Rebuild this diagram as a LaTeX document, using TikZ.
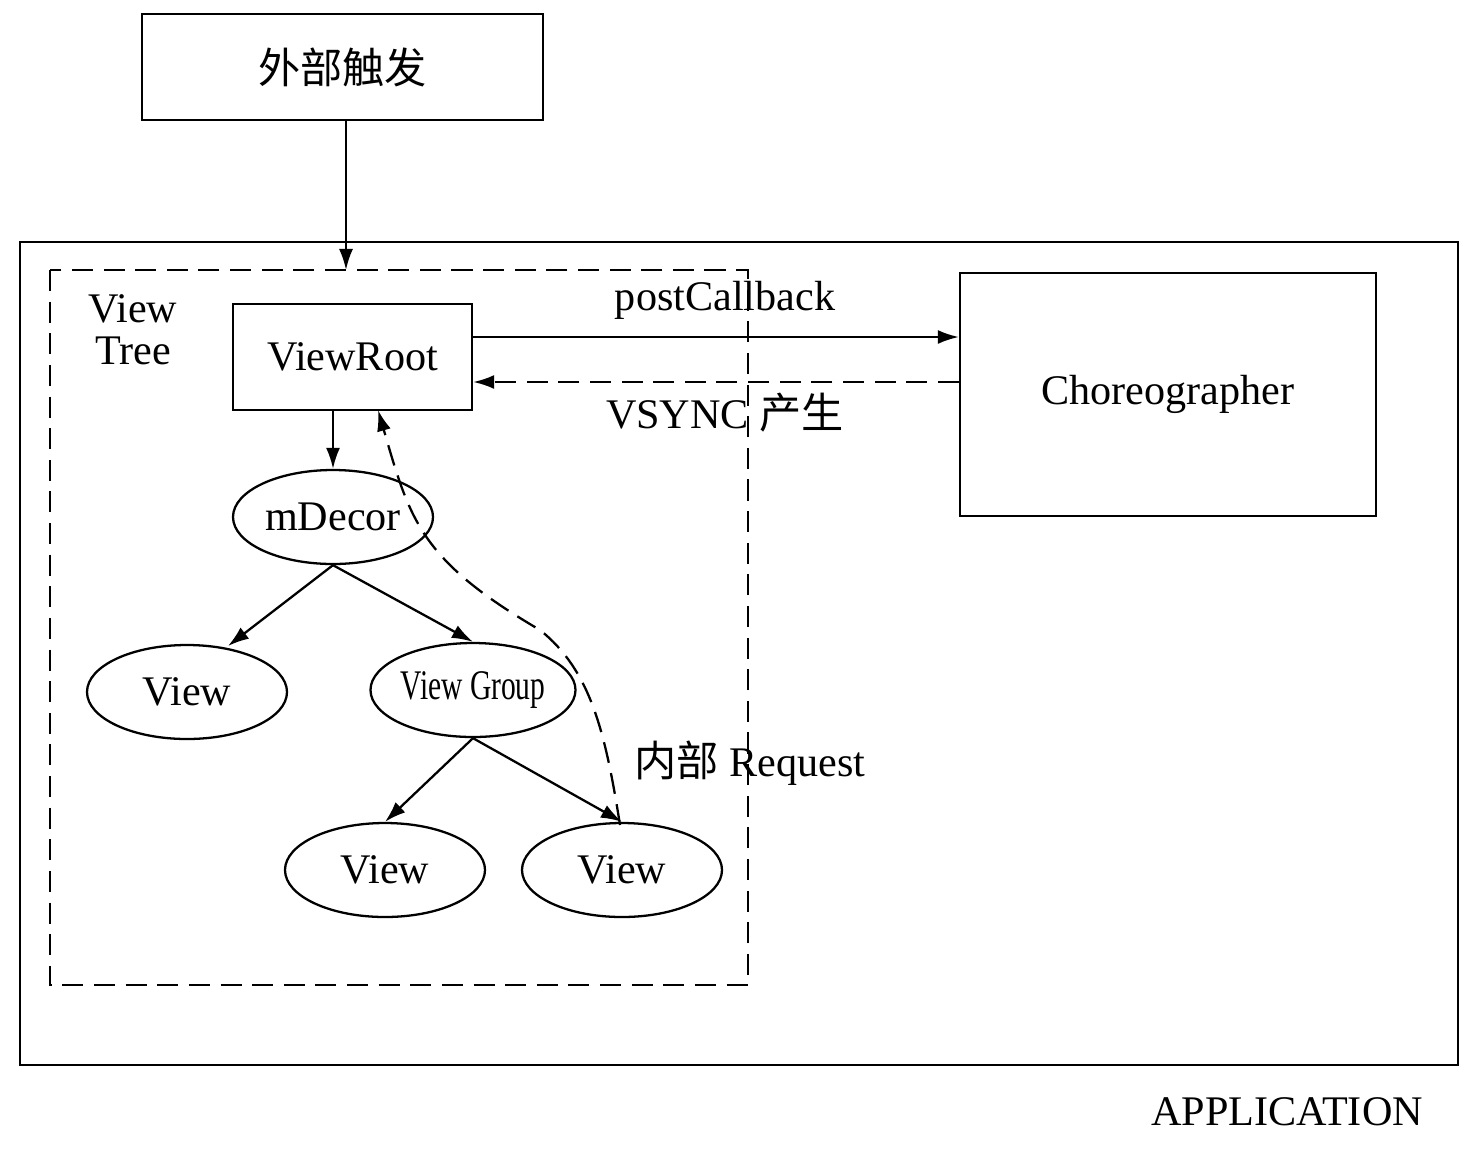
\documentclass[tikz,border=0pt]{standalone}
\usepackage{fontspec}
\setmainfont{Liberation Serif}
\newfontfamily\cjk{Noto Sans CJK SC}
\usetikzlibrary{shapes.geometric,arrows.meta}
\begin{document}
\begin{tikzpicture}[x=0.02cm,y=-0.02cm,
  every node/.style={font=\fontsize{24}{28}\selectfont},
  box/.style={draw,line width=1.3pt,rectangle},
  ell/.style={draw,line width=1.3pt,ellipse,minimum width=200*0.02cm,minimum height=94*0.02cm,inner sep=0pt},
  arr/.style={line width=1.3pt,-{Latex[length=12pt,width=8pt]}},
  dsh/.style={line width=1.3pt,dash pattern=on 12pt off 6pt}]
\useasboundingbox (0,0) rectangle (1476,1150);
\node[box,minimum width=401*0.02cm,minimum height=106*0.02cm] (ext) at (342.5,67) {\cjk 外部触发};
\draw[line width=1.3pt] (20,242) rectangle (1458,1065);
\node (app) at (1287,1112) {APPLICATION};
\draw[dsh] (50,270) rectangle (748,985);
\coordinate (vt) at (346,270);
\node[align=center,font=\fontsize{24}{24}\selectfont] (tree) at (133,330) {View\\Tree};
\node[box,minimum width=239*0.02cm,minimum height=106*0.02cm] (vr) at (352.5,357) {ViewRoot};
\node[box,minimum width=416*0.02cm,minimum height=243*0.02cm] (ch) at (1168,394.5) {Choreographer};
\draw[arr] (ext.south -| vt) -- (vt);
\draw[arr] (vr.east |- 0,337) -- (ch.west |- 0,337);
\node (pc) at (725,300) {postCallback};
\draw[dsh,-{Latex[length=12pt,width=8pt]}] (ch.west |- 0,382) -- (vr.east |- 0,382);
\node (vs) at (725,413) {VSYNC {\cjk 产生}};
\node[ell] (md) at (333,517) {mDecor};
\node[ell] (v1) at (187,692) {View};
\node[ell] (vg) at (473,690) {\scalebox{0.7}[1]{View Group}};
\node[ell] (v2) at (385,870) {View};
\node[ell] (v3) at (622,870) {View};
\coordinate (v1t) at (228,646);
\draw[arr] (vr.south -| md) -- (md.north);
\draw[arr] (md.south) -- (v1t);
\draw[arr] (md.south) -- (vg.north);
\draw[arr] (vg.south) -- (v2.north);
\draw[arr] (vg.south) -- (v3.north);
\draw[dsh,-{Latex[length=12pt,width=8pt]}] (620,825) .. controls (605,730) and (590,670) .. (540,630) .. controls (420,560) and (410,520) .. (378,410);
\node (ir) at (750,763) {{\cjk 内部} Request};
\end{tikzpicture}
\end{document}
